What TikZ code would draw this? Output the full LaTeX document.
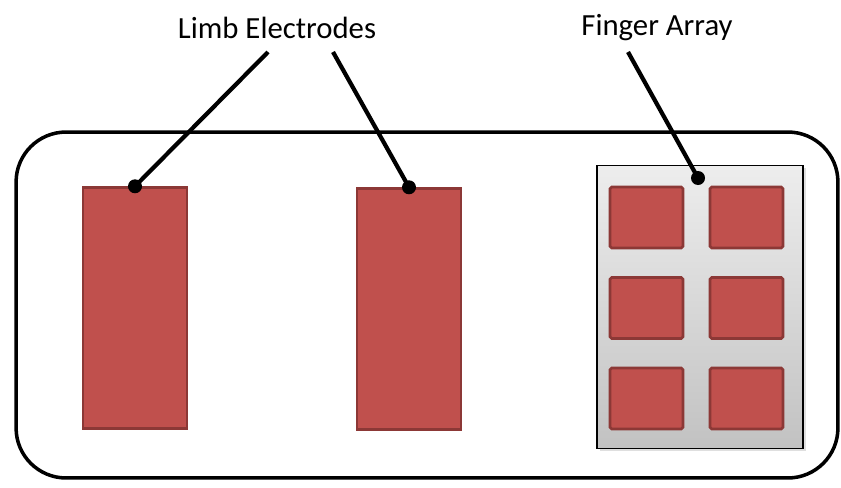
\documentclass[tikz,border=0pt]{standalone}
\usepackage{fontspec}
\setmainfont{Carlito}
\usepackage{xcolor}
\usetikzlibrary{shadows}

\definecolor{padred}{HTML}{C0504D}
\definecolor{padedge}{HTML}{8C3836}

\begin{document}
\begin{tikzpicture}[
    x=0.02cm, y=-0.02cm,
    board/.style={rectangle, rounded corners=1cm, draw=black, line width=2pt, minimum width=16.44cm, minimum height=6.92cm},
    limb/.style={rectangle, draw=padedge, line width=1.4pt, fill=padred, minimum width=2.08cm, minimum height=4.82cm},
    panel/.style={rectangle, draw=black, line width=0.9pt, top color=black!7, bottom color=black!24, minimum width=4.12cm, minimum height=5.66cm, drop shadow={opacity=0.25, shadow xshift=1.5pt, shadow yshift=-1.5pt}},
    fpad/.style={rectangle, rounded corners=1pt, draw=padedge, line width=1.5pt, fill=padred, minimum width=1.46cm, minimum height=1.22cm},
    label/.style={font=\fontsize{17.5}{21}\selectfont},
    pin/.style={circle, fill=black, inner sep=0pt, minimum size=0.28cm},
    lead/.style={line width=2.4pt, black}
]
    \useasboundingbox (0,0) rectangle (841,487);

    \node[board] (board) at (427,305) {};
    \node[limb] (limbL) at (135,308) {};
    \node[limb] (limbR) at (409,309) {};
    \node[panel] (array) at (700,307) {};

    % finger pads, two columns by three rows
    \foreach \r/\yy in {1/217.5, 2/308, 3/398.5} {
        \node[fpad] (f\r a) at (646.5,\yy) {};
        \node[fpad] (f\r b) at (746.5,\yy) {};
    }

    \node[label] (limbtxt) at (277,28) {Limb Electrodes};
    \node[label] (fingertxt) at (657,28) {Finger Array};

    \coordinate (lstart) at (268,52);
    \coordinate (rstart) at (333,52);
    \coordinate (fstart) at (628,52);

    \node[pin] (pinL) at (limbL.north) {};
    \node[pin] (pinR) at (limbR.north) {};
    \node[pin] (pinF) at (698,178) {};

    \draw[lead] (lstart) -- (pinL.center);
    \draw[lead] (rstart) -- (pinR.center);
    \draw[lead] (fstart) -- (pinF.center);
\end{tikzpicture}
\end{document}
